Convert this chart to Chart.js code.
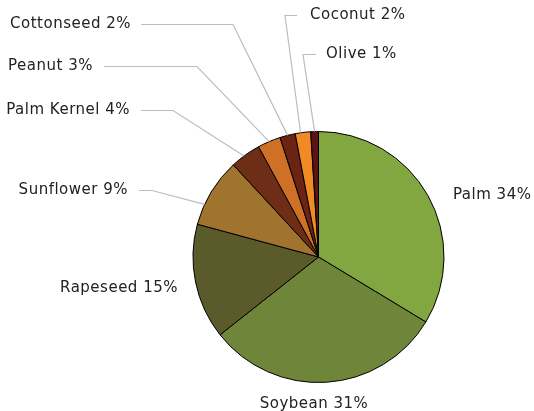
<!DOCTYPE html>
<html>
<head>
<meta charset="utf-8">
<script src="https://cdn.jsdelivr.net/npm/chart.js@4/dist/chart.umd.min.js"></script>
<style>
  html, body { margin: 0; padding: 0; background: #fff; }
  #wrap { position: relative; width: 534px; height: 411px; }
</style>
</head>
<body>
<div id="wrap"><canvas id="c" width="534" height="411"></canvas></div>
<script>
// ---- data ----
const categories = ["Palm", "Soybean", "Rapeseed", "Sunflower", "Palm Kernel", "Peanut", "Cottonseed", "Coconut", "Olive"];
const shares = [34, 31, 15, 9, 4, 3, 2, 2, 1];
const sliceColors = ["#83a740", "#6e853a", "#5a5a2b", "#a0742e", "#6e2d16", "#cf7027", "#6b2313", "#ef8a24", "#5a1414"];

// ---- label layout (text anchor + leader elbow), separate from data ----
// align: 'left' => x is text's left edge; 'right' => x is text's right edge
// anchor: fraction along the slice's arc where the leader line meets it
const labelLayout = [
  { x: 453, y: 195, align: "left" },                                          // Palm
  { x: 314, y: 404, align: "center" },                                        // Soybean
  { x: 178, y: 288, align: "right" },                                         // Rapeseed
  { x: 128, y: 190, align: "right", lineStart: 139, elbow: 152, anchor: 0.3 }, // Sunflower
  { x: 130, y: 110, align: "right", lineStart: 141, elbow: 173, anchor: 0.45 },// Palm Kernel
  { x: 93,  y: 66,  align: "right", lineStart: 104, elbow: 197, anchor: 0.5 }, // Peanut
  { x: 131, y: 24,  align: "right", lineStart: 141, elbow: 233, anchor: 0.5 }, // Cottonseed
  { x: 310, y: 15,  align: "left",  lineStart: 297, elbow: 285, anchor: 0.35 },// Coconut
  { x: 326, y: 54,  align: "left",  lineStart: 316, elbow: 303, anchor: 0.5 }  // Olive
];

const FONT = "15px 'DejaVu Sans', sans-serif";

const labelPlugin = {
  id: "outLabels",
  afterDatasetsDraw(chart) {
    const ctx = chart.ctx;
    const meta = chart.getDatasetMeta(0);
    ctx.save();
    meta.data.forEach((arc, i) => {
      const lay = labelLayout[i];
      const p = arc.getProps(["x", "y", "startAngle", "endAngle", "outerRadius"], true);
      if (lay.elbow !== undefined) {
        const f = lay.anchor;
        const ang = p.startAngle + (p.endAngle - p.startAngle) * f;
        const ax = p.x + Math.cos(ang) * p.outerRadius;
        const ay = p.y + Math.sin(ang) * p.outerRadius;
        ctx.beginPath();
        ctx.strokeStyle = "#bdbdbd";
        ctx.lineWidth = 1.2;
        ctx.moveTo(lay.lineStart, lay.y + 0.5);
        ctx.lineTo(lay.elbow, lay.y + 0.5);
        ctx.lineTo(ax, ay);
        ctx.stroke();
      }
      ctx.font = FONT;
      if ("letterSpacing" in ctx) ctx.letterSpacing = "0.5px";
      ctx.fillStyle = "#222222";
      ctx.textBaseline = "middle";
      ctx.textAlign = lay.align;
      ctx.fillText(categories[i] + " " + shares[i] + "%", lay.x, lay.y);
    });
    ctx.restore();
  }
};

new Chart(document.getElementById("c"), {
  type: "pie",
  data: {
    labels: categories,
    datasets: [{
      data: shares,
      backgroundColor: sliceColors,
      borderColor: "#000000",
      borderWidth: 1
    }]
  },
  options: {
    responsive: false,
    animation: false,
    devicePixelRatio: 1,
    layout: { padding: { top: 131, bottom: 28, left: 192, right: 89 } },
    plugins: {
      legend: { display: false },
      tooltip: { enabled: false }
    }
  },
  plugins: [labelPlugin]
});
</script>
</body>
</html>
